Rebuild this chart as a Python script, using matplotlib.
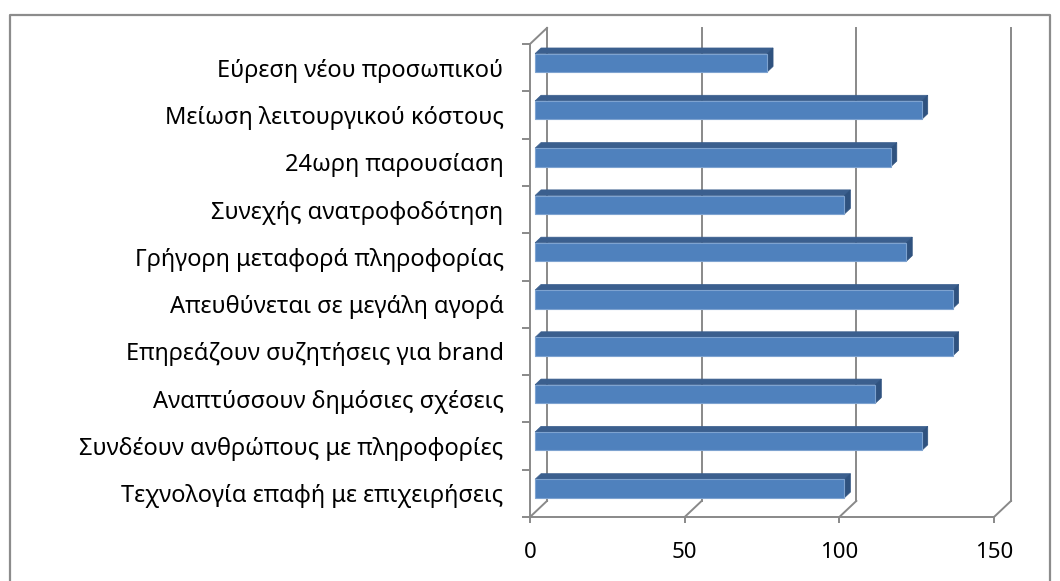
# -*- coding: utf-8 -*-
import matplotlib.pyplot as plt
import numpy as np
from matplotlib.patches import Rectangle, Polygon
from matplotlib.lines import Line2D

# Data
categories = [
    "Εύρεση νέου προσωπικού",
    "Μείωση λειτουργικού κόστους",
    "24ωρη παρουσίαση",
    "Συνεχής ανατροφοδότηση",
    "Γρήγορη μεταφορά πληροφορίας",
    "Απευθύνεται σε μεγάλη αγορά",
    "Επηρεάζουν συζητήσεις για brand",
    "Αναπτύσσουν δημόσιες σχέσεις",
    "Συνδέουν ανθρώπους με πληροφορίες",
    "Τεχνολογία επαφή με επιχειρήσεις",
]
values = [75, 125, 115, 100, 120, 135, 135, 110, 125, 100]
xticks = [0, 50, 100, 150]

plt.rcParams['font.family'] = ['Noto Sans', 'DejaVu Sans']

W, H = 1060, 581
fig = plt.figure(figsize=(W / 100, H / 100), dpi=100)
ax = fig.add_axes([530 / W, 64 / H, 464 / W, 473 / H])

n = len(categories)
ax.set_xlim(0, 150)
ax.set_ylim(n, 0)

grid_col = '#898989'
lw = 1.4

# 3D depth of the plot box (data units) and the slab occupied by the bars
DX, DY = 5.5, 0.34
f0, f1 = 0.3, 0.65
bar_h = 0.39

# back wall gridlines and floor diagonals
for t in xticks:
    ax.add_line(Line2D([t + DX, t + DX], [-DY, n - DY], color=grid_col, lw=lw, zorder=1, clip_on=False))
    ax.add_line(Line2D([t, t + DX], [n, n - DY], color=grid_col, lw=lw, zorder=1, clip_on=False))
ax.add_line(Line2D([0, DX], [0, -DY], color=grid_col, lw=lw, zorder=1, clip_on=False))

# bars: front, top and right faces
front_col = '#4F81BD'
top_col = '#3B5F8E'
side_col = '#2F527F'
ddx, ddy = (f1 - f0) * DX, (f1 - f0) * DY
for i, v in enumerate(values):
    x0 = f0 * DX
    yc = i + 0.5 - f0 * DY
    yt, yb = yc - bar_h / 2, yc + bar_h / 2
    ax.add_patch(Polygon([(x0, yt), (x0 + v, yt), (x0 + v + ddx, yt - ddy), (x0 + ddx, yt - ddy)],
                         closed=True, facecolor=top_col, edgecolor=top_col, lw=0.5, zorder=3, clip_on=False))
    ax.add_patch(Polygon([(x0 + v, yt), (x0 + v, yb), (x0 + v + ddx, yb - ddy), (x0 + v + ddx, yt - ddy)],
                         closed=True, facecolor=side_col, edgecolor=side_col, lw=0.5, zorder=3, clip_on=False))
    ax.add_patch(Rectangle((x0, yt), v, bar_h, facecolor=front_col, edgecolor='#7EA3D0',
                           lw=0.8, zorder=4, clip_on=False))

# axes lines and ticks
for s in ['top', 'right']:
    ax.spines[s].set_visible(False)
for s in ['left', 'bottom']:
    ax.spines[s].set_color(grid_col)
    ax.spines[s].set_linewidth(lw)
ax.patch.set_visible(False)

ax.set_xticks(xticks)
ax.set_xticklabels([str(t) for t in xticks], fontsize=16)
ax.tick_params(axis='x', direction='out', length=4.5, width=lw, color=grid_col, pad=13.5)

ax.set_yticks(np.arange(n + 1))
ax.set_yticklabels([])
ax.tick_params(axis='y', which='major', direction='out', length=6, width=lw, color=grid_col)
ax.set_yticks(np.arange(n) + 0.5, minor=True)
ax.set_yticklabels(categories, minor=True, fontsize=17)
ax.tick_params(axis='y', which='minor', length=0, pad=19)

# chart frame
bx0, bx1, by1 = 10 / W, 1050 / W, 1 - 15 / H
fig.add_artist(Line2D([bx0, bx0, bx1, bx1], [-0.05, by1, by1, -0.05],
                      transform=fig.transFigure, color='#8C8C8C', lw=1.6))

fig.savefig('out.png', dpi=100)
